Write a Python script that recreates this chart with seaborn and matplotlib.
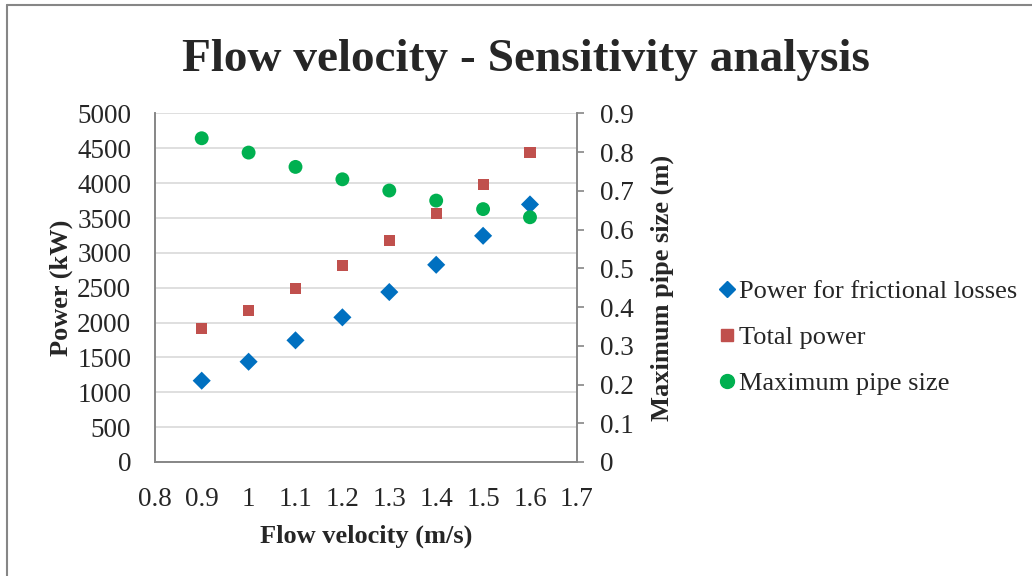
import matplotlib
matplotlib.use("Agg")
import matplotlib.pyplot as plt
from matplotlib.lines import Line2D
import seaborn as sns

# data
velocity = [0.9, 1.0, 1.1, 1.2, 1.3, 1.4, 1.5, 1.6]
friction_power = [1166, 1438, 1745, 2075, 2438, 2829, 3245, 3695]
total_power = [1917, 2175, 2491, 2820, 3179, 3566, 3982, 4441]
max_pipe_size = [0.836, 0.799, 0.762, 0.730, 0.701, 0.675, 0.653, 0.632]

labels = ["Power for frictional losses", "Total power", "Maximum pipe size"]
colors = ["#0070C0", "#C0504D", "#00B050"]

sns.set_style("white")
plt.rcParams["font.family"] = ["Liberation Serif", "DejaVu Serif"]

fig = plt.figure(figsize=(10.32, 5.76), dpi=100)
ax = fig.add_axes([0.150, 0.198, 0.409, 0.605])
ax2 = ax.twinx()

sns.scatterplot(x=velocity, y=friction_power, ax=ax, marker="D", s=85,
                color=colors[0], edgecolor="none", zorder=3)
sns.scatterplot(x=velocity, y=total_power, ax=ax, marker="s", s=64,
                color=colors[1], edgecolor="none", zorder=3)
sns.scatterplot(x=velocity, y=max_pipe_size, ax=ax2, marker="o", s=100,
                color=colors[2], edgecolor="none", zorder=3)

ax.set_xlim(0.8, 1.7)
ax.set_ylim(0, 5000)
ax2.set_ylim(0, 0.9)
ax.set_xticks([0.8, 0.9, 1.0, 1.1, 1.2, 1.3, 1.4, 1.5, 1.6, 1.7])
ax.set_xticklabels(["0.8", "0.9", "1", "1.1", "1.2", "1.3", "1.4", "1.5", "1.6", "1.7"])
ax.set_yticks(range(0, 5001, 500))
ax2.set_yticks([i / 10 for i in range(10)])
ax2.set_yticklabels(["0"] + [f"{i / 10:.1f}" for i in range(1, 10)])

ax.yaxis.grid(True, color="#d9d9d9", linewidth=1.2)
ax.set_axisbelow(True)
ax.tick_params(axis="y", labelsize=19.5, length=0, pad=17)
ax.tick_params(axis="x", labelsize=19.5, length=0, pad=18)
ax2.tick_params(axis="y", labelsize=19.5, length=5, width=1.2, color="#868686",
                direction="out", pad=12)

for a in (ax, ax2):
    a.spines["top"].set_visible(False)
    for side in ("left", "right", "bottom"):
        a.spines[side].set_color("#868686")
        a.spines[side].set_linewidth(1.2)

ax.set_xlabel("Flow velocity (m/s)", fontsize=19, fontweight="bold", labelpad=9)
ax.set_ylabel("Power (kW)", fontsize=19, fontweight="bold", labelpad=3)
ax2.set_ylabel("Maximum pipe size (m)", fontsize=19, fontweight="bold", labelpad=12)

fig.suptitle("Flow velocity - Sensitivity analysis", fontsize=34,
             fontweight="bold", x=0.51, y=0.933)

handles = [
    Line2D([], [], linestyle="none", marker="D", markersize=8, color=colors[0]),
    Line2D([], [], linestyle="none", marker="s", markersize=8, color=colors[1]),
    Line2D([], [], linestyle="none", marker="o", markersize=10, color=colors[2]),
]
fig.legend(handles, labels, loc="center left", bbox_to_anchor=(0.684, 0.414),
           frameon=False, fontsize=19, handlelength=0.6, handletextpad=0.15,
           labelspacing=0.85, borderpad=0)

# chart area border (left and top edges visible)
fig.add_artist(Line2D([7 / 1032, 7 / 1032], [0, 1 - 5 / 576],
                      color="#868686", linewidth=1.5))
fig.add_artist(Line2D([7 / 1032, 1], [1 - 5 / 576, 1 - 5 / 576],
                      color="#868686", linewidth=1.5))

fig.savefig("out.png", dpi=100)
